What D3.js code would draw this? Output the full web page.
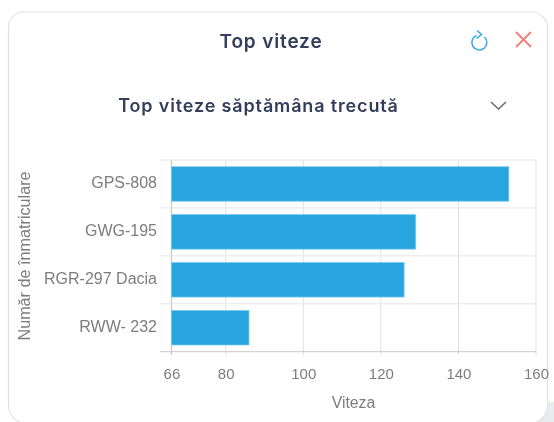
<!DOCTYPE html>
<html><head><meta charset="utf-8">
<script src="https://cdn.jsdelivr.net/npm/d3@7/dist/d3.min.js"></script>
<style>html,body{margin:0;padding:0;background:#fff;overflow:hidden}svg{display:block;filter:blur(0.35px)}</style>
</head><body><svg id="c" width="554" height="422"></svg>
<script>
const categories = ["GPS-808","GWG-195","RGR-297 Dacia","RWW- 232"];
const speeds = [153,129,126,86];
const xTicks = [66,80,100,120,140,160];
const title = "Top viteze";
const subtitle = "Top viteze săptămâna trecută";
const xTitle = "Viteza";
const yTitle = "Număr de înmatriculare";

const svg = d3.select("#c");
const labelFont = "'Liberation Sans',Arial,sans-serif";
const headFont = "Inter,'Open Sans',sans-serif";
const labelColor = "#7d7d7d";

svg.append("path").attr("d","M554,402 L554,422 L530,422 A19,19 0 0 0 548,406 L548,402 Z").attr("fill","#e9ebee");
svg.append("path")
  .attr("d","M8.5,404 L8.5,27 A15,15 0 0 1 23.5,12 L531,12 A16,16 0 0 1 547.5,28 L547.5,405 A19,19 0 0 1 529,424 L26,424 A19,19 0 0 1 8.5,404 Z")
  .attr("fill","#fff").attr("stroke","#e2e2e2").attr("stroke-width",1.2);

svg.append("text").attr("x",271).attr("y",48).attr("text-anchor","middle")
  .attr("font-family",headFont).attr("font-size",19).attr("font-weight",600).attr("letter-spacing",0.85).attr("fill","#343e5a").text(title);
svg.append("text").attr("x",258.5).attr("y",112).attr("text-anchor","middle")
  .attr("font-family",headFont).attr("font-size",18).attr("font-weight",600).attr("letter-spacing",0.85).attr("fill","#343e5a").text(subtitle);

// icons
svg.append("path").attr("d","M476.5,35.5 A7.5,7.5 0 1 0 484.5,37").attr("fill","none").attr("stroke","#3fa9e0").attr("stroke-width",1.6);
svg.append("path").attr("d","M477,30.5 L481.5,34.5 L476.5,38.5").attr("fill","none").attr("stroke","#3fa9e0").attr("stroke-width",1.6);
svg.append("path").attr("d","M516,32 L531,47 M531,32 L516,47").attr("fill","none").attr("stroke","#f67f76").attr("stroke-width",1.9);
svg.append("path").attr("d","M491,102 L498.5,109 L506,102").attr("fill","none").attr("stroke","#6b6b6b").attr("stroke-width",1.6);

const x = d3.scaleLinear().domain([66,160]).range([171.4,536]);
const y = d3.scaleBand().domain(categories).range([160,351.7]).paddingInner(0.28).paddingOuter(0.14);
const step = y.step();
const bandEdges = categories.map((c,i)=>160+i*step).concat([351.7]);

const grid = svg.append("g");
grid.selectAll("line.v").data(xTicks).join("line")
  .attr("x1",d=>x(d)).attr("x2",d=>x(d)).attr("y1",160).attr("y2",355)
  .attr("stroke",d=>d===66?"#bdbdbd":"#e0e0e0");
grid.selectAll("line.h").data(bandEdges).join("line")
  .attr("x1",160).attr("x2",536).attr("y1",d=>d).attr("y2",d=>d)
  .attr("stroke",(d,i)=>i===4?"#c8c8c8":"#e6e6e6");

svg.selectAll("rect.bar").data(speeds).join("rect").attr("class","bar")
  .attr("x",x(66)).attr("y",(d,i)=>y(categories[i]))
  .attr("width",d=>x(d)-x(66)).attr("height",y.bandwidth())
  .attr("fill","#28a4de").attr("stroke","#7ccbee").attr("stroke-width",0.8);

const xAxis = svg.append("g").attr("transform","translate(0,351.7)")
  .call(d3.axisBottom(x).tickValues(xTicks).tickSize(0).tickPadding(16.5).tickFormat(d3.format("d")));
xAxis.select(".domain").remove();
xAxis.selectAll("text").attr("font-family",labelFont).attr("font-size",15).attr("fill",labelColor);

const yAxis = svg.append("g").attr("transform","translate(157,-1)")
  .call(d3.axisLeft(y).tickSize(0).tickPadding(0));
yAxis.select(".domain").remove();
yAxis.selectAll("text").attr("font-family",labelFont).attr("font-size",16).attr("fill",labelColor);

svg.append("text").attr("x",353.5).attr("y",408).attr("text-anchor","middle")
  .attr("font-family",labelFont).attr("font-size",15.8).attr("fill",labelColor).text(xTitle);
svg.append("text").attr("transform","translate(30,256) rotate(-90)").attr("text-anchor","middle")
  .attr("font-family",labelFont).attr("font-size",16.2).attr("fill",labelColor).text(yTitle);
</script></body></html>
